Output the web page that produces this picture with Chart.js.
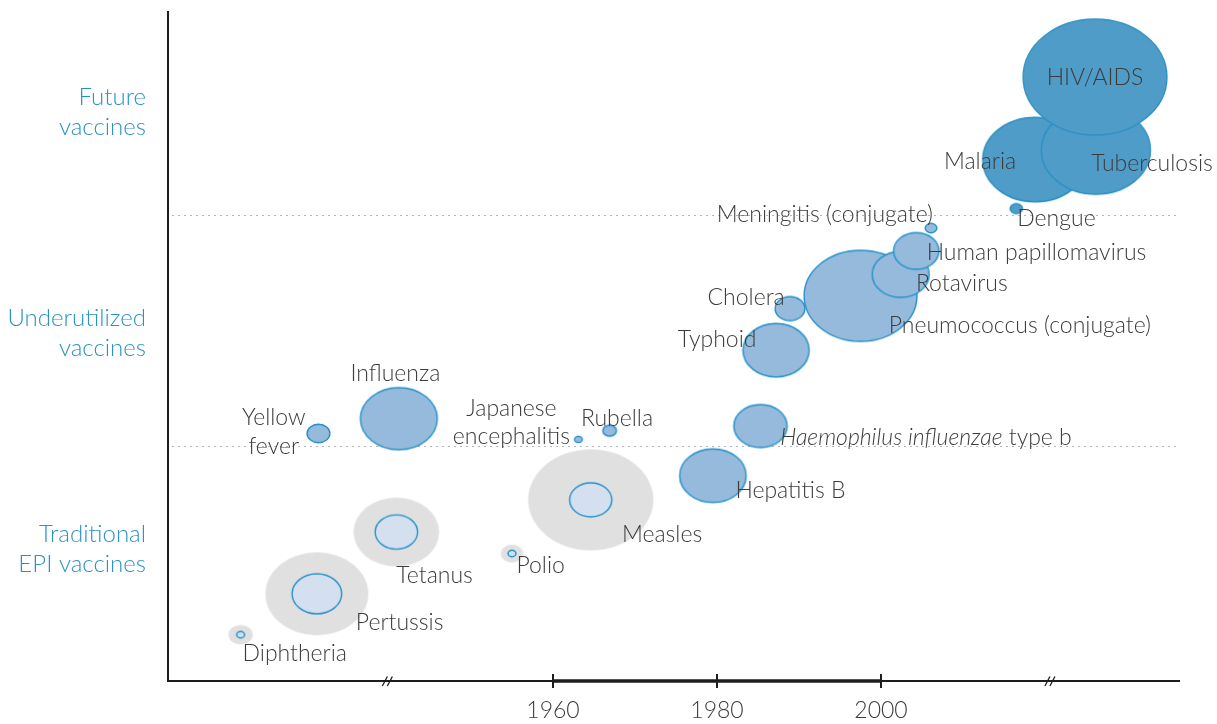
<!DOCTYPE html>
<html>
<head>
<meta charset="utf-8">
<script src="https://cdn.jsdelivr.net/npm/chart.js@4.4.1/dist/chart.umd.min.js"></script>
<style>
  html, body { margin: 0; padding: 0; background: #fff; }
  #wrap { width: 1217px; height: 724px; }
</style>
</head>
<body>
<div id="wrap"><canvas id="chart" width="1217" height="724"></canvas></div>
<script>
// x = year of introduction (axis is broken at the // marks), y = height inside the bands (0-100)
const futureNames = ['Malaria', 'Tuberculosis', 'HIV/AIDS', 'Dengue'];
const futureYears = [2018.8, 2026.2, 2026.1, 2016.5];
const futureLevels = [78.0, 79.4, 90.3, 70.7];
const futureSizes = [42.3, 44, 58, 5];

const underNames = ['Pneumococcus (conjugate)', 'Rotavirus', 'Human papillomavirus', 'Meningitis (conjugate)',
    'Cholera', 'Typhoid', 'Haemophilus influenzae type b', 'Hepatitis B', 'Rubella',
    'Japanese encephalitis', 'Influenza', 'Yellow fever'];
const underYears = [1997.5, 2002.4, 2004.3, 2006.1, 1988.9, 1987.2, 1985.3, 1979.5, 1966.9, 1963.1, 1941.2, 1931.4];
const underLevels = [57.7, 60.9, 64.4, 67.8, 55.8, 49.6, 38.3, 30.9, 37.6, 36.3, 39.4, 37.2];
const underSizes = [45.5, 23, 18.3, 4.7, 12, 26.7, 21.5, 26.8, 5.5, 3.1, 31, 9.2];

const epiNames = ['Diphtheria', 'Pertussis', 'Tetanus', 'Polio', 'Measles'];
const epiYears = [1921.9, 1931.2, 1940.9, 1955.0, 1964.6];
const epiLevels = [7.2, 13.3, 22.5, 19.3, 27.3];
const epiOuterSizes = [9.8, 41.5, 34.5, 9, 50.5];
const epiInnerSizes = [3.2, 20, 17.1, 3.2, 17];

const bandNames = [['Traditional', 'EPI vaccines'], ['Underutilized', 'vaccines'], ['Future', 'vaccines']];
const bandCenters = [19.9, 52.1, 85.1];
const bandEdges = [35.3, 69.75];
const tickYears = [1960, 1980, 2000];
const axisBreaks = [1939.8, 2020.6];

const FONT = "Lato, 'Open Sans', sans-serif";
const LABEL_SIZE = 23;
const STRETCH = 1.24; // bubbles in the figure are drawn as wide ellipses

// where each name sits relative to its bubble
const labelLayout = {
    'HIV/AIDS': { dx: 0, dy: 8, align: 'center' },
    'Malaria': { dx: -19, dy: 9.3, align: 'right' },
    'Tuberculosis': { dx: -4.5, dy: 21, align: 'left' },
    'Dengue': { dx: 1, dy: 17, align: 'left' },
    'Meningitis (conjugate)': { dx: 2, dy: -5.7, align: 'right' },
    'Human papillomavirus': { dx: 10.4, dy: 9.3, align: 'left' },
    'Rotavirus': { dx: 15.2, dy: 16.7, align: 'left' },
    'Pneumococcus (conjugate)': { dx: 28.2, dy: 37, align: 'left' },
    'Cholera': { dx: -5.3, dy: -3.3, align: 'right' },
    'Typhoid': { dx: -19.6, dy: -3.3, align: 'right' },
    'Haemophilus influenzae type b': { dx: 19.7, dy: 18.5, align: 'left',
        parts: [['Haemophilus influenzae', 'italic'], [' type b', 'normal']] },
    'Hepatitis B': { dx: 22.5, dy: 22.8, align: 'left' },
    'Rubella': { dx: 7.4, dy: -4.5, align: 'center' },
    'Japanese encephalitis': { dx: -67, dy: -23.7, align: 'center', lines: ['Japanese', 'encephalitis'] },
    'Influenza': { dx: -3.5, dy: -37.7, align: 'center' },
    'Yellow fever': { dx: -44.7, dy: -8.5, align: 'center', lines: ['Yellow', 'fever'] },
    'Measles': { dx: 31.2, dy: 42.5, align: 'left' },
    'Polio': { dx: 4.4, dy: 19.4, align: 'left' },
    'Tetanus': { dx: 0, dy: 50.5, align: 'left' },
    'Pertussis': { dx: 39, dy: 36.5, align: 'left' },
    'Diphtheria': { dx: 2, dy: 26.3, align: 'left' }
};

const bubbleCache = {};
function ellipseStyle(r, fill, stroke) {
    const key = r + '|' + fill + '|' + stroke;
    if (bubbleCache[key]) return bubbleCache[key];
    const rx = r * STRETCH, ry = r;
    const c = document.createElement('canvas');
    c.width = Math.ceil(rx * 2 + 4);
    c.height = Math.ceil(ry * 2 + 4);
    const g = c.getContext('2d');
    g.beginPath();
    g.ellipse(c.width / 2, c.height / 2, rx, ry, 0, 0, Math.PI * 2);
    g.fillStyle = fill;
    g.fill();
    if (stroke) {
        g.lineWidth = 1.4;
        g.strokeStyle = stroke;
        g.stroke();
    }
    bubbleCache[key] = c;
    return c;
}

function bubbleSet(names, years, levels, sizes, fill, stroke, order, labelled) {
    return {
        names: names,
        labelled: labelled,
        order: order,
        clip: false,
        data: years.map((x, i) => ({ x: x, y: levels[i], r: sizes[i] })),
        backgroundColor: fill,
        borderColor: stroke || fill,
        pointStyle: ctx => ctx.raw ? ellipseStyle(ctx.raw.r, fill, stroke) : 'circle'
    };
}

const labelsPlugin = {
    id: 'bubbleLabels',
    afterDatasetsDraw(chart) {
        const ctx = chart.ctx;
        ctx.save();
        ctx.fillStyle = '#3c3c3b';
        ctx.textBaseline = 'alphabetic';
        chart.data.datasets.forEach((ds, di) => {
            if (!ds.labelled) return;
            chart.getDatasetMeta(di).data.forEach((el, i) => {
                const name = ds.names[i];
                const lay = labelLayout[name];
                if (!lay) return;
                const x = el.x + lay.dx;
                const y = el.y + lay.dy;
                if (lay.parts) {
                    let cx = x;
                    lay.parts.forEach(([txt, style]) => {
                        ctx.font = style + ' 300 ' + LABEL_SIZE + 'px ' + FONT;
                        ctx.textAlign = 'left';
                        ctx.fillText(txt, cx, y);
                        cx += ctx.measureText(txt).width;
                    });
                    return;
                }
                ctx.font = '300 ' + LABEL_SIZE + 'px ' + FONT;
                ctx.textAlign = lay.align;
                (lay.lines || [name]).forEach((line, li) => ctx.fillText(line, x, y + li * 28.7));
            });
        });
        ctx.restore();
    }
};

const axisDecor = {
    id: 'axisDecor',
    beforeDatasetsDraw(chart) {
        const { ctx, chartArea, scales: { y } } = chart;
        ctx.save();
        ctx.strokeStyle = '#b5b5b5';
        ctx.lineWidth = 1.2;
        ctx.setLineDash([2, 4]);
        bandEdges.forEach(v => {
            const py = Math.round(y.getPixelForValue(v)) + 0.5;
            ctx.beginPath();
            ctx.moveTo(chartArea.left + 4, py);
            ctx.lineTo(chartArea.right, py);
            ctx.stroke();
        });
        ctx.restore();
    },
    afterDraw(chart) {
        const { ctx, chartArea, scales: { x } } = chart;
        const base = chartArea.bottom;
        ctx.save();
        ctx.strokeStyle = '#1d1d1b';
        // heavier stretch of the axis over the labelled years
        ctx.lineWidth = 3.5;
        ctx.beginPath();
        ctx.moveTo(x.getPixelForValue(tickYears[0]), base);
        ctx.lineTo(x.getPixelForValue(tickYears[tickYears.length - 1]), base);
        ctx.stroke();
        ctx.lineWidth = 2;
        tickYears.forEach(v => {
            const px = Math.round(x.getPixelForValue(v));
            ctx.beginPath();
            ctx.moveTo(px, base - 7);
            ctx.lineTo(px, base + 7);
            ctx.stroke();
        });
        // axis break marks
        ctx.lineWidth = 1.3;
        axisBreaks.forEach(v => {
            const px = x.getPixelForValue(v);
            [-2.5, 2.5].forEach(off => {
                ctx.beginPath();
                ctx.moveTo(px + off - 2.5, base + 5);
                ctx.lineTo(px + off + 2.5, base - 4.5);
                ctx.stroke();
            });
        });
        ctx.restore();
    }
};

new Chart(document.getElementById('chart'), {
    type: 'bubble',
    data: {
        datasets: [
            bubbleSet(futureNames, futureYears, futureLevels, futureSizes, '#509cc9', '#2b90c3', 1, true),
            bubbleSet(underNames, underYears, underLevels, underSizes, '#95badb', '#2290c8', 2, true),
            bubbleSet(epiNames, epiYears, epiLevels, epiInnerSizes, '#d4e0f0', '#2590c8', 3, true),
            bubbleSet(epiNames, epiYears, epiLevels, epiOuterSizes, '#e0e0e1', null, 4, false)
        ]
    },
    options: {
        responsive: false,
        animation: false,
        events: [],
        layout: { autoPadding: false, padding: { top: 12, right: 38, bottom: 0, left: 0 } },
        plugins: { legend: { display: false }, tooltip: { enabled: false } },
        scales: {
            x: {
                type: 'linear',
                min: 1913.05,
                max: 2036.34,
                afterBuildTicks: s => { s.ticks = tickYears.map(v => ({ value: v })); },
                afterFit: s => { s.height = 43; s.paddingLeft = 0; s.paddingRight = 0; },
                grid: { display: false, drawTicks: false },
                border: { display: true, color: '#1d1d1b', width: 2 },
                ticks: {
                    padding: 16,
                    color: '#3c3c3b',
                    autoSkip: false,
                    maxRotation: 0,
                    font: { family: FONT, size: 23, weight: 300 },
                    callback: v => String(v)
                }
            },
            y: {
                type: 'linear',
                min: 0.3,
                max: 100,
                afterBuildTicks: s => { s.ticks = bandCenters.map(v => ({ value: v })); },
                afterFit: s => { s.width = 168; s.paddingTop = 0; s.paddingBottom = 0; },
                grid: { display: false, drawTicks: false },
                border: { display: true, color: '#1d1d1b', width: 2 },
                ticks: {
                    padding: 22,
                    color: '#2a93c6',
                    autoSkip: false,
                    font: { family: FONT, size: 24, weight: 300, lineHeight: 1.25 },
                    callback: (v, i) => bandNames[i]
                }
            }
        }
    },
    plugins: [axisDecor, labelsPlugin]
});
</script>
</body>
</html>
